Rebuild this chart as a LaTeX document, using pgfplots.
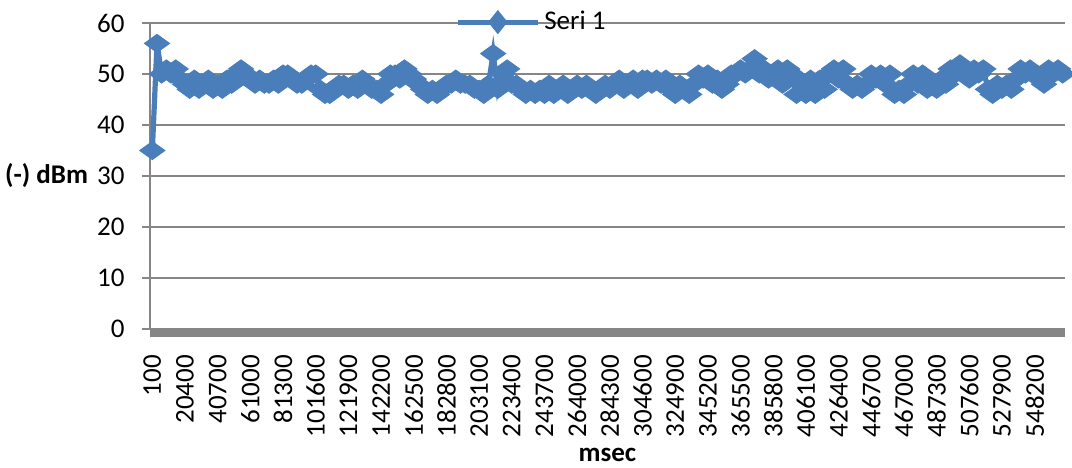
\documentclass[border=0pt]{standalone}
\usepackage{pgfplots}
\pgfplotsset{compat=1.18}
\usepackage{fontspec}
\setmainfont{Carlito}
\definecolor{sblue}{HTML}{4A7EBB}
\definecolor{agray}{HTML}{868686}
\begin{document}
\begin{tikzpicture}[font=\fontsize{13.5}{16}\selectfont]
\begin{axis}[
  scale only axis, width=457.5pt, height=153pt,
  xmin=-0.5, xmax=195.5, ymin=0, ymax=60,
  ytick={0,10,...,60},
  xtick={0,7,...,189},
  xticklabels={100,20400,40700,61000,81300,101600,121900,142200,162500,182800,203100,223400,243700,264000,284300,304600,324900,345200,365500,385800,406100,426400,446700,467000,487300,507600,527900,548200},
  xticklabel style={rotate=90, anchor=east, inner sep=0pt},
  xticklabel shift=8.85pt,
  xtick style={draw=none},
  ytick pos=left, tick align=outside, major tick length=4pt,
  ytick style={draw=agray, line width=0.75pt},
  yticklabel style={anchor=east, inner sep=0pt, xshift=-8.5pt},
  /pgf/number format/assume math mode=true,
  axis line style={draw=none},
  ymajorgrids, grid style={draw=agray, line width=0.75pt},
  clip=false,
  xlabel={\textbf{msec}},
  xlabel style={at={(rel axis cs:0.5,0)}, anchor=center, yshift=-63pt},
  ylabel={\textbf{(-) dBm}},
  ylabel style={rotate=-90, at={(rel axis cs:0,0.5)}, anchor=east, xshift=-27.5pt},
  legend style={at={(0.418,1.003)}, anchor=center, draw=none, fill=none, inner sep=0pt,
    font=\fontsize{13.5}{16}\selectfont, nodes={inner sep=2pt}},
  legend image code/.code={
    \draw[sblue, line width=2.5pt] (0pt,0pt) -- (40pt,0pt);
    \fill[sblue] (20pt,4pt) -- (23.2pt,0pt) -- (20pt,-4pt) -- (16.8pt,0pt) -- cycle;
  },
]
\fill[agray] (rel axis cs:0,0) rectangle ([yshift=-4pt]rel axis cs:1,0);
\draw[agray, line width=0.75pt] (rel axis cs:0,0) -- (rel axis cs:0,1);
\addplot[sblue, line width=2.6pt, mark=diamond*, mark size=4.5pt,
  mark options={solid, line width=0.5pt, xscale=1.85, fill=sblue, draw=sblue}]
coordinates {
(0,35) (1,56) (2,50) (3,51) (4,50) (5,51) (6,49) (7,48) (8,47) (9,49) (10,47) (11,48) (12,49) (13,47) (14,48) (15,47) (16,49) (17,48) (18,50) (19,51) (20,50) (21,49) (22,48) (23,49) (24,48) (25,48) (26,49) (27,48)
(28,50) (29,50) (30,49) (31,48) (32,48) (33,49) (34,50) (35,50) (36,47) (37,46) (38,46) (39,47) (40,48) (41,48) (42,47) (43,48) (44,47) (45,49) (46,48) (47,47) (48,47) (49,46) (50,48) (51,50) (52,50) (53,49) (54,51)
(55,50) (56,49) (57,48) (58,47) (59,46) (60,47) (61,46) (62,47) (63,48) (64,48) (65,49) (66,48) (67,48) (68,48) (69,47) (70,47) (71,46) (72,48) (73,54) (74,47) (75,50) (76,51) (77,48) (78,48) (79,47) (80,46) (81,47) (82,46)
(83,47) (84,46) (85,48) (86,46) (87,47) (88,48) (89,46) (90,47) (91,48) (92,47) (93,48) (94,47) (95,46) (96,47) (97,48) (98,47) (99,48) (100,49) (101,47) (102,48) (103,49) (104,47) (105,49) (106,49) (107,48) (108,49) (109,48) (110,49)
(111,47) (112,46) (113,48) (114,47) (115,46) (116,48) (117,50) (118,49) (119,50) (120,48) (121,49) (122,47) (123,48) (124,50) (125,50) (126,51) (127,50) (128,51) (129,53) (130,50) (131,51) (132,49) (133,50) (134,51) (135,48) (136,51) (137,50) (138,46)
(139,48) (140,46) (141,49) (142,46) (143,49) (144,47) (145,50) (146,51) (147,49) (148,51) (149,48) (150,47) (151,48) (152,47) (153,48) (154,50) (155,49) (156,50) (157,48) (158,50) (159,46) (160,47) (161,46) (162,48) (163,50) (164,48) (165,50) (166,47)
(167,48) (168,47) (169,49) (170,48) (171,51) (172,50) (173,52) (174,51) (175,49) (176,51) (177,50) (178,51) (179,47) (180,46) (181,48) (182,47) (183,48) (184,47) (185,49) (186,51) (187,50) (188,51) (189,50) (190,49) (191,48) (192,51) (193,50) (194,51) (195,50)
};
\addlegendentry{Seri 1}
\end{axis}
\pgfresetboundingbox
\path (-75pt,-69pt) rectangle (461pt,164.5pt);
\end{tikzpicture}
\end{document}
